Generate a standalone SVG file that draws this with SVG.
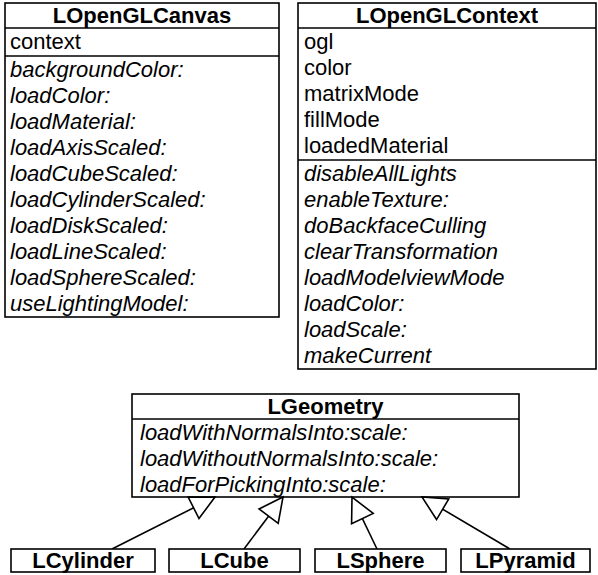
<svg xmlns="http://www.w3.org/2000/svg" width="598" height="575" viewBox="0 0 598 575">
<style>
.box{fill:#fff;stroke:#000;stroke-width:1.6}
.sep{stroke:#000;stroke-width:1.6}
text{font-family:"Liberation Sans",Arial,Helvetica,sans-serif;font-size:22px;fill:#000}
.t{font-weight:bold;text-anchor:middle}
.m{font-style:italic}
.c{fill:none;stroke:#000;stroke-width:1.6}
</style>
<defs>
<marker id="gen" markerUnits="userSpaceOnUse" markerWidth="30" markerHeight="30" refX="24" refY="12" orient="auto" overflow="visible">
<path d="M0,0 L24,12 L0,24 Z" fill="#fff" stroke="#000" stroke-width="1.6"/>
</marker>
</defs>
<rect width="598" height="575" fill="#fff"/>
<g id="LOpenGLCanvas">
<rect class="box" x="5" y="3" width="274" height="314"/>
<line class="sep" x1="5" y1="28" x2="279" y2="28"/>
<line class="sep" x1="5" y1="56" x2="279" y2="56"/>
<text class="t" x="142" y="23">LOpenGLCanvas</text>
<text x="10" y="49">context</text>
<text class="m" x="10" y="77">backgroundColor:</text>
<text class="m" x="10" y="103">loadColor:</text>
<text class="m" x="10" y="129">loadMaterial:</text>
<text class="m" x="10" y="155">loadAxisScaled:</text>
<text class="m" x="10" y="181">loadCubeScaled:</text>
<text class="m" x="10" y="207">loadCylinderScaled:</text>
<text class="m" x="10" y="233">loadDiskScaled:</text>
<text class="m" x="10" y="259">loadLineScaled:</text>
<text class="m" x="10" y="285">loadSphereScaled:</text>
<text class="m" x="10" y="311">useLightingModel:</text>
</g>
<g id="LOpenGLContext">
<rect class="box" x="298" y="3" width="298" height="366"/>
<line class="sep" x1="298" y1="28" x2="596" y2="28"/>
<line class="sep" x1="298" y1="160" x2="596" y2="160"/>
<text class="t" x="447" y="23">LOpenGLContext</text>
<text x="304" y="49">ogl</text>
<text x="304" y="75">color</text>
<text x="304" y="101">matrixMode</text>
<text x="304" y="127">fillMode</text>
<text x="304" y="153">loadedMaterial</text>
<text class="m" x="304" y="181">disableAllLights</text>
<text class="m" x="304" y="207">enableTexture:</text>
<text class="m" x="304" y="233">doBackfaceCulling</text>
<text class="m" x="304" y="259">clearTransformation</text>
<text class="m" x="304" y="285">loadModelviewMode</text>
<text class="m" x="304" y="311">loadColor:</text>
<text class="m" x="304" y="337">loadScale:</text>
<text class="m" x="304" y="363">makeCurrent</text>
</g>
<g id="LGeometry">
<rect class="box" x="132" y="394" width="387" height="103"/>
<line class="sep" x1="132" y1="419" x2="519" y2="419"/>
<text class="t" x="325.5" y="414">LGeometry</text>
<text class="m" x="140" y="440">loadWithNormalsInto:scale:</text>
<text class="m" x="140" y="466">loadWithoutNormalsInto:scale:</text>
<text class="m" x="140" y="492">loadForPickingInto:scale:</text>
</g>
<g id="connectors">
<line class="c" x1="112" y1="549" x2="215" y2="497" marker-end="url(#gen)"/>
<line class="c" x1="244" y1="549" x2="283" y2="497" marker-end="url(#gen)"/>
<line class="c" x1="377" y1="549" x2="352" y2="497" marker-end="url(#gen)"/>
<line class="c" x1="510" y1="549" x2="422" y2="497" marker-end="url(#gen)"/>
</g>
<g id="LCylinder">
<rect class="box" x="11" y="549" width="144" height="23"/>
<text class="t" x="83" y="568">LCylinder</text>
</g>
<g id="LCube">
<rect class="box" x="169" y="549" width="131" height="23"/>
<text class="t" x="234.5" y="568">LCube</text>
</g>
<g id="LSphere">
<rect class="box" x="315" y="549" width="131" height="23"/>
<text class="t" x="380.5" y="568">LSphere</text>
</g>
<g id="LPyramid">
<rect class="box" x="461" y="549" width="129" height="23"/>
<text class="t" x="525.5" y="568">LPyramid</text>
</g>
</svg>
